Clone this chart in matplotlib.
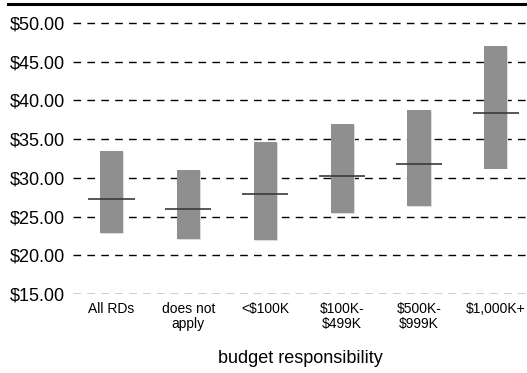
import matplotlib
matplotlib.use("Agg")
import matplotlib.pyplot as plt
import matplotlib.transforms as mtransforms
from matplotlib.lines import Line2D

categories = ["All RDs", "does not\napply", "<$100K", "$100K-\n$499K", "$500K-\n$999K", "$1,000K+"]
low = [22.9, 22.1, 22.0, 25.45, 26.35, 31.2]
high = [33.45, 31.0, 34.6, 36.95, 38.75, 47.05]
median = [27.25, 26.0, 27.9, 30.25, 31.85, 38.4]
yticks = [15, 20, 25, 30, 35, 40, 45, 50]
ytick_labels = ["$15.00", "$20.00", "$25.00", "$30.00", "$35.00", "$40.00", "$45.00", "$50.00"]
xlabel = "budget responsibility"

plt.rcParams['font.family'] = ['Liberation Sans', 'DejaVu Sans']

fig = plt.figure(figsize=(5.27, 3.73), dpi=100)
ax = fig.add_axes([0.1385, 0.2118, 0.8615, 0.7473])

x = list(range(len(categories)))
heights = [h - l for h, l in zip(high, low)]

shadow = mtransforms.offset_copy(ax.transData, fig=fig, x=1.0, y=-0.8, units='dots')
ax.bar(x, heights, bottom=low, width=0.3, color='#dcdcdc', transform=shadow, zorder=2)
ax.bar(x, heights, bottom=low, width=0.3, color='#8f8f8f', zorder=3)
ax.hlines(median, [i - 0.3 for i in x], [i + 0.3 for i in x], colors='#3a3a3a', linewidth=1.2, zorder=4)

ax.set_ylim(15, 51)
ax.set_xlim(-0.5, 5.404)
ax.set_yticks(yticks)
ax.set_yticklabels(ytick_labels, fontsize=13)
ax.set_xticks(x)
ax.set_xticklabels(categories, fontsize=10, linespacing=1.05, va='top')
ax.tick_params(length=0)
ax.tick_params(axis='x', pad=6)
ax.tick_params(axis='y', pad=6)
for s in ax.spines.values():
    s.set_visible(False)
ax.yaxis.grid(True, color='black', linewidth=1.0, linestyle=(0, (5.5, 4.5)), zorder=1)
ax.set_axisbelow(True)
ax.set_xlabel(xlabel, fontsize=13, labelpad=14)

fig.add_artist(Line2D([8 / 527, 1.0], [1 - 3.5 / 373, 1 - 3.5 / 373], color='black', linewidth=2.2, transform=fig.transFigure))

fig.savefig("out.png", dpi=100)
